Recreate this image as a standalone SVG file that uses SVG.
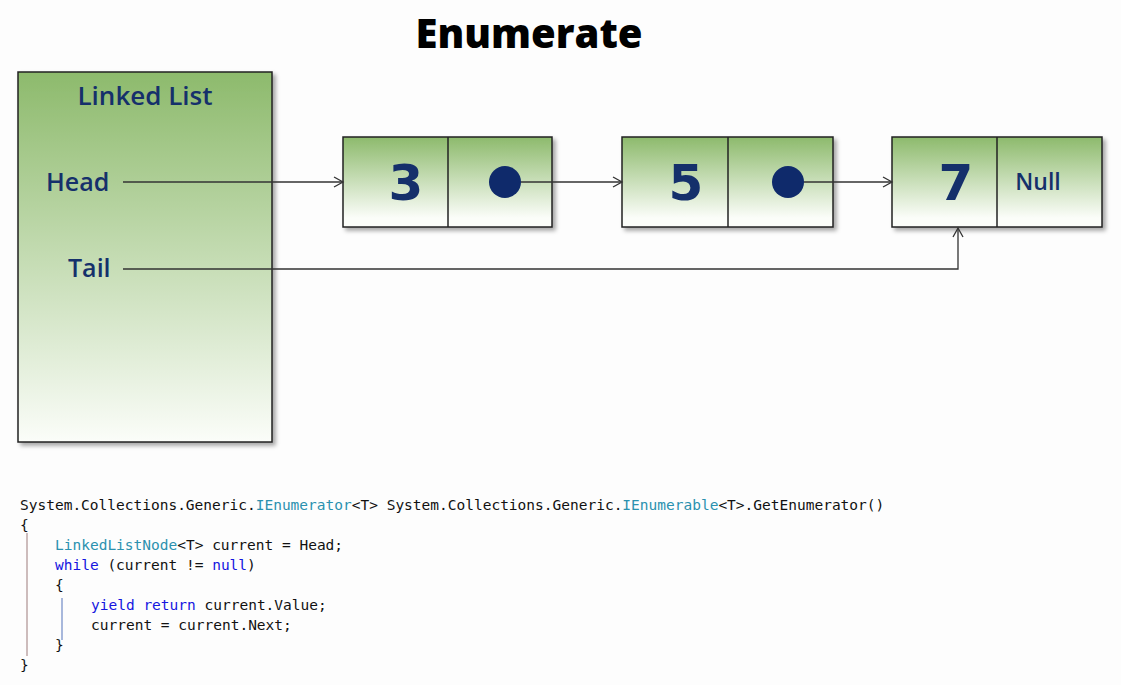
<svg xmlns="http://www.w3.org/2000/svg" width="1121" height="685" viewBox="0 0 1121 685">
<defs>
<linearGradient id="g" x1="0" y1="0" x2="0" y2="1">
<stop offset="0" stop-color="#8dba6c"/>
<stop offset="1" stop-color="#fbfdf9"/>
</linearGradient>
<linearGradient id="gn" x1="0" y1="0" x2="0" y2="1">
<stop offset="0" stop-color="#8dba6c"/>
<stop offset="0.9" stop-color="#fbfdf9"/>
</linearGradient>
<filter id="sh" x="-10%" y="-10%" width="130%" height="130%">
<feDropShadow dx="3" dy="3" stdDeviation="2" flood-color="#000" flood-opacity="0.35"/>
</filter>
<marker id="ah" markerWidth="12" markerHeight="12" refX="10" refY="6" orient="auto" markerUnits="userSpaceOnUse">
<path d="M1,1 L10,6 L1,11" fill="none" stroke="#333" stroke-width="1.3"/>
</marker>
<style>
.box{fill:url(#gn);stroke:#222;stroke-width:1.5;filter:url(#sh)}
.hand{font-family:"Open Sans","DejaVu Sans",sans-serif;font-weight:600;fill:#15306b}
.num{font-family:"DejaVu Sans",sans-serif;font-weight:bold;font-size:50px;fill:#15306b;text-anchor:middle}
.code{font-family:"DejaVu Sans Mono","Liberation Mono",monospace;font-size:14.5px;fill:#111}
.t{fill:#2b91af}
.k{fill:#1515e0}
.c line,.c polyline{stroke:#333;stroke-width:1.3;fill:none}
</style>
</defs>
<rect width="1121" height="685" fill="#fdfdfd"/>
<text x="529" y="48" text-anchor="middle" font-family="'Open Sans','DejaVu Sans',sans-serif" font-weight="800" font-size="40" fill="#000">Enumerate</text>

<g id="linkedlist">
<rect x="18" y="72" width="254" height="370" fill="url(#g)" stroke="#222" stroke-width="1.5" filter="url(#sh)"/>
<text class="hand" x="145" y="105" text-anchor="middle" font-size="26">Linked List</text>
<text class="hand" x="46" y="191" font-size="25">Head</text>
<text class="hand" x="68" y="277" font-size="25">Tail</text>
</g>

<g id="node3">
<rect class="box" x="343" y="137" width="209" height="90"/>
<line x1="448" y1="137" x2="448" y2="227" stroke="#222" stroke-width="1.5"/>
<text class="num" x="406" y="200">3</text>
<circle cx="505" cy="182" r="16" fill="#0f2a6b"/>
</g>
<g id="node5">
<rect class="box" x="622" y="137" width="211" height="90"/>
<line x1="728" y1="137" x2="728" y2="227" stroke="#222" stroke-width="1.5"/>
<text class="num" x="686" y="200">5</text>
<circle cx="788" cy="182" r="16" fill="#0f2a6b"/>
</g>
<g id="node7">
<rect class="box" x="892" y="137" width="210" height="90"/>
<line x1="997" y1="137" x2="997" y2="227" stroke="#222" stroke-width="1.5"/>
<text class="num" x="956" y="200">7</text>
<text class="hand" x="1038" y="190" text-anchor="middle" font-size="23">Null</text>
</g>

<g id="connectors" class="c">
<line x1="123" y1="182" x2="343" y2="182" marker-end="url(#ah)"/>
<line x1="521" y1="182" x2="622" y2="182" marker-end="url(#ah)"/>
<line x1="804" y1="182" x2="892" y2="182" marker-end="url(#ah)"/>
<polyline points="123,269 958,269 958,228" marker-end="url(#ah)"/>
</g>

<g id="code">
<line x1="27" y1="533" x2="27" y2="656" stroke="#cdbcbc" stroke-width="2"/>
<line x1="62" y1="598" x2="62" y2="640" stroke="#a8b8dc" stroke-width="2"/>
<text class="code" x="20" y="510">System.Collections.Generic.<tspan class="t">IEnumerator</tspan>&lt;T&gt; System.Collections.Generic.<tspan class="t">IEnumerable</tspan>&lt;T&gt;.GetEnumerator()</text>
<text class="code" x="20" y="530">{</text>
<text class="code" x="55" y="550"><tspan class="t">LinkedListNode</tspan>&lt;T&gt; current = Head;</text>
<text class="code" x="55" y="570"><tspan class="k">while</tspan> (current != <tspan class="k">null</tspan>)</text>
<text class="code" x="55" y="590">{</text>
<text class="code" x="91" y="610"><tspan class="k">yield</tspan> <tspan class="k">return</tspan> current.Value;</text>
<text class="code" x="91" y="630">current = current.Next;</text>
<text class="code" x="55" y="650">}</text>
<text class="code" x="20" y="670">}</text>
</g>
</svg>
